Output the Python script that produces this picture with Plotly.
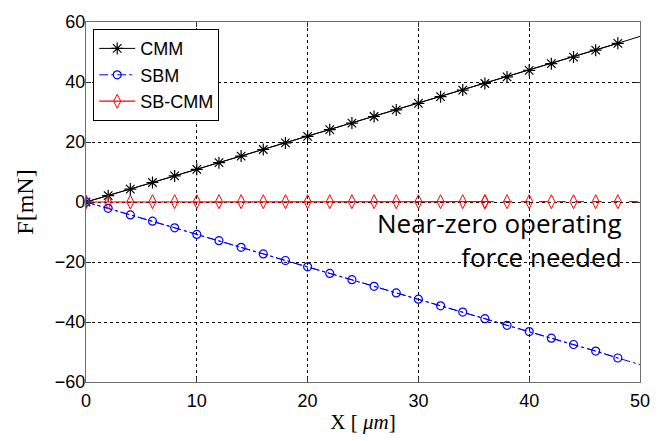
import plotly.graph_objects as go

# displacement in micrometres (markers every 2 um, lines run to 50 um)
x_um = [0, 2, 4, 6, 8, 10, 12, 14, 16, 18, 20, 22, 24, 26, 28, 30,
        32, 34, 36, 38, 40, 42, 44, 46, 48, 50]

# force in mN
f_cmm = [0, 2.1, 4.3, 6.5, 8.7, 10.9, 13.1, 15.3, 17.5, 19.7, 21.9, 24.1, 26.3,
         28.5, 30.7, 32.9, 35.1, 37.3, 39.5, 41.7, 43.9, 46.1, 48.3, 50.6, 52.9, 55.2]
f_sbm = [0, -2.1, -4.3, -6.4, -8.6, -10.8, -12.9, -15.1, -17.3, -19.5, -21.6, -23.8,
         -25.9, -28.1, -30.3, -32.4, -34.6, -36.7, -38.9, -41.1, -43.2, -45.4,
         -47.5, -49.7, -52.0, -54.2]
f_sbcmm = [0, 0.0, 0.0, 0.1, 0.1, 0.1, 0.1, 0.1, 0.1, 0.1, 0.1, 0.1, 0.1,
           0.1, 0.1, 0.1, 0.1, 0.1, 0.1, 0.1, 0.1, 0.1, 0.1, 0.1, 0.1, 0.1]

series_names = ["CMM", "SBM", "SB-CMM"]
y_ticks = [-60, -40, -20, 0, 20, 40, 60]
x_ticks = [0, 10, 20, 30, 40, 50]

# markers on every sample except the final (x = 50) point
n_marked = len(x_um) - 1

fig = go.Figure()

def add_series(xs, ys, name, line, marker, showlegend=True):
    # line through all points, markers on the sampled ones
    fig.add_trace(go.Scatter(x=xs, y=ys, mode="lines", line=line,
                             hoverinfo="skip", showlegend=False,
                             legendgroup=name))
    fig.add_trace(go.Scatter(x=xs[:n_marked], y=ys[:n_marked], name=name,
                             mode="lines+markers", line=line, marker=marker,
                             showlegend=showlegend, legendgroup=name))

add_series(x_um, f_cmm, series_names[0],
           dict(color="black", width=1),
           dict(symbol="asterisk-open", size=10,
                line=dict(color="black", width=1.2), color="black"))
add_series(x_um, f_sbm, series_names[1],
           dict(color="#0000ff", width=1, dash="dashdot"),
           dict(symbol="circle-open", size=8,
                line=dict(color="#0000ff", width=1.2), color="#0000ff"))

# SB-CMM: solid up to 36 um, then broken where it runs along the zero grid line
split = x_um.index(36)
red_marker = dict(symbol="diamond-tall-open", size=10,
                  line=dict(color="#ff0000", width=1), color="#ff0000")
fig.add_trace(go.Scatter(
    x=x_um[:split + 1], y=f_sbcmm[:split + 1], name=series_names[2],
    mode="lines+markers", line=dict(color="#ff0000", width=1.2), marker=red_marker,
))
fig.add_trace(go.Scatter(
    x=x_um[split:], y=f_sbcmm[split:], showlegend=False, mode="lines",
    line=dict(color="#ff0000", width=1.2, dash="dash"), hoverinfo="skip",
))
fig.add_trace(go.Scatter(
    x=x_um[split:n_marked], y=f_sbcmm[split:n_marked], showlegend=False,
    mode="markers", marker=red_marker,
))

axis_common = dict(
    showline=True, linecolor="#6e6e6e", linewidth=1.2, mirror="ticks",
    ticks="inside", ticklen=5, tickcolor="#333333",
    showgrid=True, gridcolor="black", gridwidth=1, griddash="dot",
    zeroline=False,
    tickfont=dict(family="Liberation Sans, Arial", size=18, color="black"),
)

fig.update_xaxes(range=[0, 50], tickvals=x_ticks, ticklabelstandoff=2,
                 **axis_common,
                 title=dict(text="X [ <i>μm</i>]", standoff=4,
                            font=dict(family="Liberation Serif, Times New Roman",
                                      size=21, color="black")))
fig.update_yaxes(range=[-60, 60], tickvals=y_ticks, ticklabelstandoff=-4,
                 **axis_common,
                 title=dict(text="F[mN]", standoff=14,
                            font=dict(family="Liberation Serif, Times New Roman",
                                      size=24, color="black")))

fig.add_annotation(
    x=48.6, y=-0.4, xref="x", yref="y", xanchor="right", yanchor="top",
    text="Near-zero operating<br>force needed", showarrow=False, align="right",
    font=dict(family="Open Sans, DejaVu Sans", size=26, color="black"),
)

fig.update_layout(
    width=664, height=441,
    margin=dict(l=86, r=24, t=21, b=57),
    paper_bgcolor="white", plot_bgcolor="white",
    showlegend=True,
    legend=dict(x=0.013, y=0.98, xanchor="left", yanchor="top",
                bgcolor="white", bordercolor="black", borderwidth=1,
                font=dict(family="Liberation Sans, Arial", size=18, color="black"),
                tracegroupgap=0, itemwidth=36),
)

fig.write_html("out.html")
